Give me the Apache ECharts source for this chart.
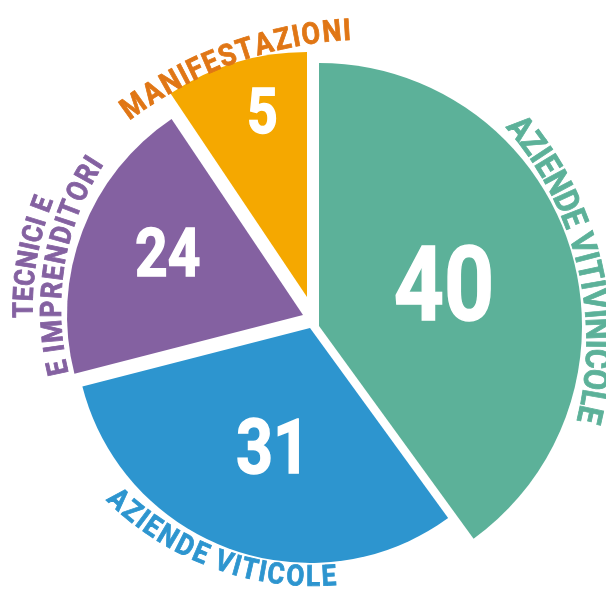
<!DOCTYPE html>
<html>
<head>
<meta charset="utf-8">
<style>
  html, body { margin: 0; padding: 0; background: #fff; }
  #chart { width: 606px; height: 589px; }
</style>
<script src="https://cdn.jsdelivr.net/npm/echarts@6/dist/echarts.min.js"></script>
</head>
<body>
<div id="chart"></div>
<script>
// dati del grafico
const categories = ['AZIENDE VITIVINICOLE', 'AZIENDE VITICOLE', 'TECNICI E IMPRENDITORI', 'MANIFESTAZIONI'];
const values = [40, 31, 24, 5];
// ampiezza delle fette come disegnate nell'originale (le ultime due non sono in proporzione)
const shares = [40, 31, 19.6, 9.4];
// righe delle etichette curve, come appaiono
const labelLines = [['AZIENDE VITIVINICOLE'], ['AZIENDE VITICOLE'], ['TECNICI E', 'E IMPRENDITORI'], ['MANIFESTAZIONI']];

const colors = ['#5cb199', '#2d95cf', '#8461a1', '#f5a800'];
const labelColors = ['#5cb199', '#2d95cf', '#8461a1', '#e07615'];
const FONT = "Roboto, 'Liberation Sans', sans-serif";
// il centro visivo delle maiuscole sta un po' sopra il "middle" del font
const CAP_SHIFT = 0.09;

// ogni fetta ha il suo centro (grafico "esploso" a mano)
const sliceLayout = [
  { cx: 319, cy: 326, r: 263, frac: 0.50, nudge: 0,    size: 103 },
  { cx: 310, cy: 328, r: 235, frac: 0.53, nudge: -2.5, size: 76 },
  { cx: 303, cy: 315, r: 236, frac: 0.63, nudge: 3.7,  size: 67 },
  { cx: 307, cy: 297, r: 245, frac: 0.78, nudge: 3.4,  size: 63 }
];

// archi delle etichette: angoli in gradi, orari da ore 12
const arcs = [
  { slice: 0, line: 0, cx: 261, cy: 342, r: 337, a0: 50.5,  a1: 102.5, size: 34, inward: false },
  { slice: 1, line: 0, cx: 314, cy: 291, r: 285, a0: 223.2, a1: 177,   size: 29, inward: true },
  { slice: 2, line: 0, cx: 326, cy: 309, r: 303, a0: 269.8, a1: 290.3, size: 28, inward: false },
  { slice: 2, line: 1, cx: 326, cy: 309, r: 275, a0: 257.6, a1: 302.3, size: 29, inward: false },
  { slice: 3, line: 0, cx: 371, cy: 438, r: 409, a0: 324.4, a1: 356.6, size: 30, inward: false }
];

const ctx = document.createElement('canvas').getContext('2d');
const deg = Math.PI / 180;

function arcText(str, a, color) {
  const font = 'bold ' + a.size + 'px ' + FONT;
  ctx.font = font;
  const chars = str.split('');
  const mids = [];
  let acc = 0;
  chars.forEach(ch => {
    const w = ctx.measureText(ch).width;
    mids.push(acc + w / 2);
    acc += w;
  });
  const first = mids[0], last = mids[mids.length - 1];
  // sposta l'ancora in modo che il centro delle lettere cada sull'arco
  const r = a.r + (a.inward ? 1 : -1) * CAP_SHIFT * a.size;
  const out = [];
  chars.forEach((ch, i) => {
    if (ch === ' ') return;
    const t = (mids[i] - first) / (last - first);
    const ang = (a.a0 + (a.a1 - a.a0) * t) * deg;
    out.push({
      type: 'text',
      x: a.cx + r * Math.sin(ang),
      y: a.cy - r * Math.cos(ang),
      rotation: a.inward ? -(ang - Math.PI) : -ang,
      scaleX: 0.9,
      z: 100,
      silent: true,
      style: {
        text: ch, fill: color, font: font,
        stroke: color, lineWidth: 0.8,
        align: 'center', verticalAlign: 'middle',
        textAlign: 'center', textVerticalAlign: 'middle'
      }
    });
  });
  return out;
}

const total = shares.reduce((s, v) => s + v, 0);
let cum = 0;
const bisectors = shares.map(v => {
  const mid = (cum + v / 2) / total * 360;
  cum += v;
  return mid;
});

const series = sliceLayout.map((s, i) => ({
  type: 'pie',
  silent: true,
  animation: false,
  z: 2,
  center: [s.cx, s.cy],
  radius: s.r,
  startAngle: 90,
  clockwise: true,
  label: { show: false },
  labelLine: { show: false },
  emphasis: { disabled: true },
  itemStyle: { borderWidth: 0 },
  data: shares.map((v, j) => ({
    value: v,
    name: categories[j],
    itemStyle: { color: j === i ? colors[j] : 'rgba(0,0,0,0)', borderWidth: 0 }
  }))
}));

const graphics = [];
// numeri dentro le fette
sliceLayout.forEach((s, i) => {
  const ang = (bisectors[i] + s.nudge) * deg;
  graphics.push({
    type: 'text',
    x: s.cx + s.r * s.frac * Math.sin(ang),
    y: s.cy - s.r * s.frac * Math.cos(ang) + CAP_SHIFT * s.size,
    scaleX: 0.85,
    z: 100,
    silent: true,
    style: {
      text: String(values[i]), fill: '#fff',
      stroke: '#fff', lineWidth: 1.5,
      font: 'bold ' + s.size + 'px ' + FONT,
      align: 'center', verticalAlign: 'middle',
      textAlign: 'center', textVerticalAlign: 'middle'
    }
  });
});
// etichette curve
arcs.forEach(a => {
  arcText(labelLines[a.slice][a.line], a, labelColors[a.slice]).forEach(el => graphics.push(el));
});

const chart = echarts.init(document.getElementById('chart'));
chart.setOption({
  backgroundColor: '#fff',
  animation: false,
  series: series,
  graphic: { elements: graphics }
});
</script>
</body>
</html>
